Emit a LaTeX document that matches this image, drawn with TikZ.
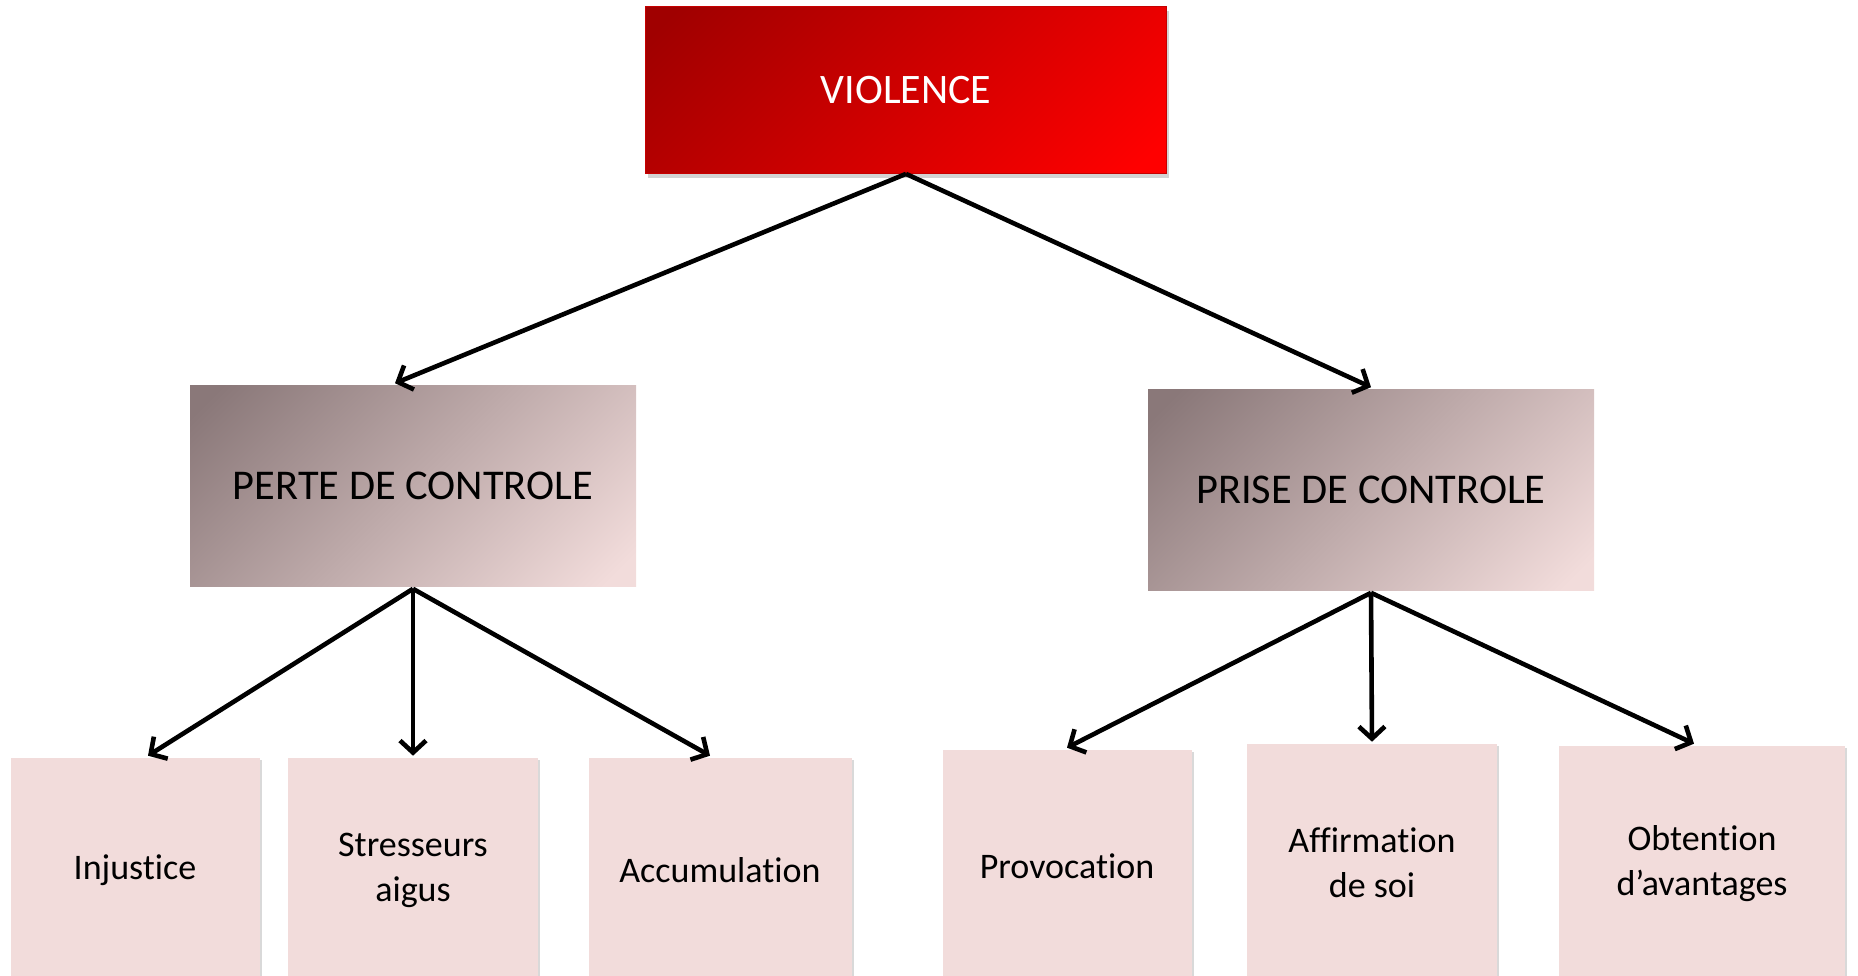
\documentclass[tikz,border=0pt]{standalone}
\usepackage{fontspec}
\setmainfont{Carlito}[Ligatures=NoCommon]
\usetikzlibrary{arrows.meta, shadows}

\definecolor{violdark}{RGB}{160,0,0}
\definecolor{violbright}{RGB}{255,0,0}
\definecolor{ctrldark}{RGB}{138,120,121}
\definecolor{leafpink}{RGB}{242,220,219}

\pgfdeclareverticalshading{violshade}{100bp}{color(0bp)=(violbright); color(18bp)=(violbright); color(82bp)=(violdark); color(100bp)=(violdark)}
\pgfdeclareverticalshading{ctrlshade}{100bp}{color(0bp)=(leafpink); color(18bp)=(leafpink); color(82bp)=(ctrldark); color(100bp)=(ctrldark)}

\tikzset{
	violence/.style={draw=violdark!60!violbright, thin, shading=violshade, shading angle=45, text=white, font=\fontsize{21}{25}\selectfont, drop shadow={opacity=0.35, shadow xshift=1pt, shadow yshift=-2pt}},
	controle/.style={shading=ctrlshade, shading angle=45, font=\fontsize{21.2}{25}\selectfont, minimum width=223pt, minimum height=100.5pt},
	leaf/.style={fill=leafpink, font=\fontsize{18}{22.5}\selectfont, drop shadow={opacity=0.3, shadow xshift=1pt, shadow yshift=-1pt}}
}

\begin{document}
\begin{tikzpicture} [x=0.5pt, y=-0.5pt, align=center, inner sep=0pt, line width=2.3pt, ->, >={Straight Barb[length=6pt, width=13pt]}]

\useasboundingbox (0,0) rectangle (1858,975);

\node[violence, minimum width=260.5pt, minimum height=83.5pt] 	(violence) 	at (906,90)		{VIOLENCE};

\node[controle] 	(perte)		at (413,486)	{PERTE DE CONTROLE};
\node[controle] 	(prise)		at (1371,490)	{PRISE DE CONTROLE};

\node[leaf, minimum width=124.5pt, minimum height=112pt]	(injustice)	at (135,870)	{Injustice};
\node[leaf, minimum width=125pt, minimum height=112pt]	(stresseurs)	at (413,870)	{Stresseurs \\ aigus};
\node[leaf, minimum width=131.5pt, minimum height=112pt]	(accumulation)	at (720,870)	{Accumulation};
\node[leaf, minimum width=124.5pt, minimum height=116pt]	(provocation)	at (1067,866)	{Provocation};
\node[leaf, minimum width=125pt, minimum height=119pt]	(affirmation)	at (1372,863)	{Affirmation \\ de soi};
\node[leaf, minimum width=143pt, minimum height=118pt]	(obtention)	at (1702,864)	{Obtention \\ d’avantages};

\path[->]
		(violence.south)	edge	([xshift=-9pt]perte.north)
					edge	(prise.north)
		(perte.south)	edge	([xshift=6.5pt]injustice.north)
					edge	(stresseurs.north)
					edge	([xshift=-5pt]accumulation.north)
		(prise.south)	edge	(provocation.north)
					edge	(affirmation.north)
					edge	([xshift=-4pt]obtention.north)
;

\end{tikzpicture}
\end{document}
